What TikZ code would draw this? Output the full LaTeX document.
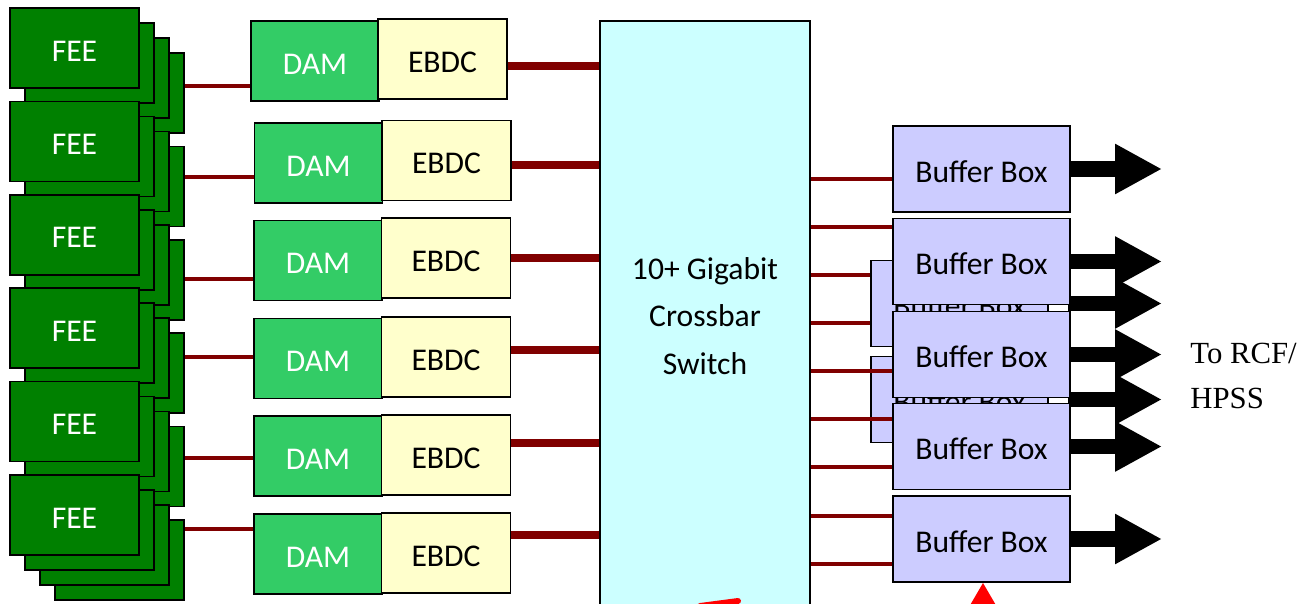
\documentclass[tikz,border=0pt]{standalone}
\usepackage{fontspec}
\setmainfont{Carlito}
\newfontfamily\timesfont{Liberation Serif}
\usepackage{xcolor}
\usepackage{tikz}
\usetikzlibrary{shadows,arrows.meta}

\definecolor{feegreen}{RGB}{0,128,0}
\definecolor{damgreen}{RGB}{51,204,102}
\definecolor{ebdcyellow}{RGB}{255,255,204}
\definecolor{switchcyan}{RGB}{204,255,255}
\definecolor{bufferblue}{RGB}{204,204,255}
\definecolor{fibrered}{RGB}{128,0,0}

\tikzset{
  box/.style={draw=black, line width=1pt, inner sep=0pt, font=\fontsize{18}{21}\selectfont},
  oneline/.style={box, text height=17pt, text depth=2pt},
  sheet/.style={shadow xshift=#1, shadow yshift=-#1, fill=feegreen, draw=black, line width=1pt},
  fee/.style={oneline, fill=feegreen, text=white, minimum width=2.58cm, minimum height=1.6cm,
    copy shadow={sheet=0.9cm}, copy shadow={sheet=0.6cm}, copy shadow={sheet=0.3cm}},
  dam/.style={oneline, fill=damgreen, text=white, minimum width=2.56cm, minimum height=1.6cm},
  ebdc/.style={oneline, fill=ebdcyellow, minimum width=2.58cm, minimum height=1.6cm},
  buffer/.style={oneline, fill=bufferblue, minimum width=3.54cm, minimum height=1.72cm},
  fibre/.style={fibrered, line width=2.2pt},
  bus/.style={fibrered, line width=4.5pt},
  link/.style={fibrered, line width=2pt},
  fat/.style={line width=9pt, -{Triangle[length=0.94cm, width=0.94cm]}}
}

\begin{document}
\begin{tikzpicture}[x=0.02cm, y=-0.02cm]
  \useasboundingbox (0,0) rectangle (1307,604);
  \clip (0,0) rectangle (1307,604);
  \coordinate (tip) at (1162,0);

  \node[fee] (fee1) at (74.5,48) {FEE};
  \node[fee] (fee2) at (74.5,141.4) {FEE};
  \node[fee] (fee3) at (74.5,234.8) {FEE};
  \node[fee] (fee4) at (74.5,328.2) {FEE};
  \node[fee] (fee5) at (74.5,421.6) {FEE};
  \node[fee] (fee6) at (74.5,515) {FEE};

  \node[dam] (dam1) at (315,61) {DAM};
  \node[dam] (dam2) at (318.5,163) {DAM};
  \node[dam] (dam3) at (318,260.5) {DAM};
  \node[dam] (dam4) at (318,358.5) {DAM};
  \node[dam] (dam5) at (318,456) {DAM};
  \node[dam] (dam6) at (318,554) {DAM};

  \node[ebdc] (ebdc1) at (442.5,59) {EBDC};
  \node[ebdc] (ebdc2) at (446.5,160.5) {EBDC};
  \node[ebdc] (ebdc3) at (446,258) {EBDC};
  \node[ebdc] (ebdc4) at (446,357) {EBDC};
  \node[ebdc] (ebdc5) at (446,455) {EBDC};
  \node[ebdc] (ebdc6) at (446,553) {EBDC};

  \draw[fibre] ([xshift=0.9cm]fee1.east |- 0,86) -- (dam1.west |- 0,86);
  \draw[fibre] ([xshift=0.9cm]fee2.east |- 0,177) -- (dam2.west |- 0,177);
  \draw[fibre] ([xshift=0.9cm]fee3.east |- 0,279) -- (dam3.west |- 0,279);
  \draw[fibre] ([xshift=0.9cm]fee4.east |- 0,357) -- (dam4.west |- 0,357);
  \draw[fibre] ([xshift=0.9cm]fee5.east |- 0,458) -- (dam5.west |- 0,458);
  \draw[fibre] ([xshift=0.9cm]fee6.east |- 0,529) -- (dam6.west |- 0,529);

  \node[box, fill=switchcyan, minimum width=4.2cm, minimum height=11.8cm, align=center,
    font=\fontsize{18}{27}\selectfont] (switch) at (705,316) {10+ Gigabit\\Crossbar\\Switch};

  \draw[bus] (ebdc1.east |- 0,66) -- (switch.west |- 0,66);
  \draw[bus] (ebdc2.east |- 0,165) -- (switch.west |- 0,165);
  \draw[bus] (ebdc3.east |- 0,258) -- (switch.west |- 0,258);
  \draw[bus] (ebdc4.east |- 0,350) -- (switch.west |- 0,350);
  \draw[bus] (ebdc5.east |- 0,443) -- (switch.west |- 0,443);
  \draw[bus] (ebdc6.east |- 0,535) -- (switch.west |- 0,535);

  \node[buffer] (back1) at (959.5,303.5) {Buffer Box};
  \node[buffer] (back2) at (959.5,399.5) {Buffer Box};
  \draw[fat] ([xshift=0.38cm]back1.east) -- (tip |- back1.east);
  \draw[fat] ([xshift=0.38cm]back2.east) -- (tip |- back2.east);

  \node[buffer] (bb1) at (981.5,169) {Buffer Box};
  \node[buffer] (bb2) at (981.5,261.5) {Buffer Box};
  \node[buffer] (bb3) at (981.5,354.5) {Buffer Box};
  \node[buffer] (bb4) at (981.5,446.5) {Buffer Box};
  \node[buffer] (bb5) at (981.5,539) {Buffer Box};
  \draw[fat] (bb1.east) -- (tip |- bb1.east);
  \draw[fat] (bb2.east) -- (tip |- bb2.east);
  \draw[fat] (bb3.east) -- (tip |- bb3.east);
  \draw[fat] (bb4.east) -- (tip |- bb4.east);
  \draw[fat] (bb5.east) -- (tip |- bb5.east);

  \draw[link] (switch.east |- 0,179) -- (bb1.west |- 0,179);
  \draw[link] (switch.east |- 0,227) -- (bb2.west |- 0,227);
  \draw[link] (switch.east |- 0,275) -- (back1.west |- 0,275);
  \draw[link] (switch.east |- 0,323) -- (back1.west |- 0,323);
  \draw[link] (switch.east |- 0,371) -- (bb3.west |- 0,371);
  \draw[link] (switch.east |- 0,419) -- (bb4.west |- 0,419);
  \draw[link] (switch.east |- 0,467) -- (bb4.west |- 0,467);
  \draw[link] (switch.east |- 0,516) -- (bb5.west |- 0,516);
  \draw[link] (switch.east |- 0,564) -- (bb5.west |- 0,564);

  \node[anchor=west, align=left, inner sep=0pt, font=\timesfont\fontsize{17.5}{26}\selectfont]
    (dest) at (1190,376) {To RCF/\\HPSS};

  \draw[red, line width=3.4pt, line cap=round] (700,606) -- (738,601);
  \fill[red] (983,583) -- (997,607) -- (969,607) -- cycle;
\end{tikzpicture}
\end{document}
